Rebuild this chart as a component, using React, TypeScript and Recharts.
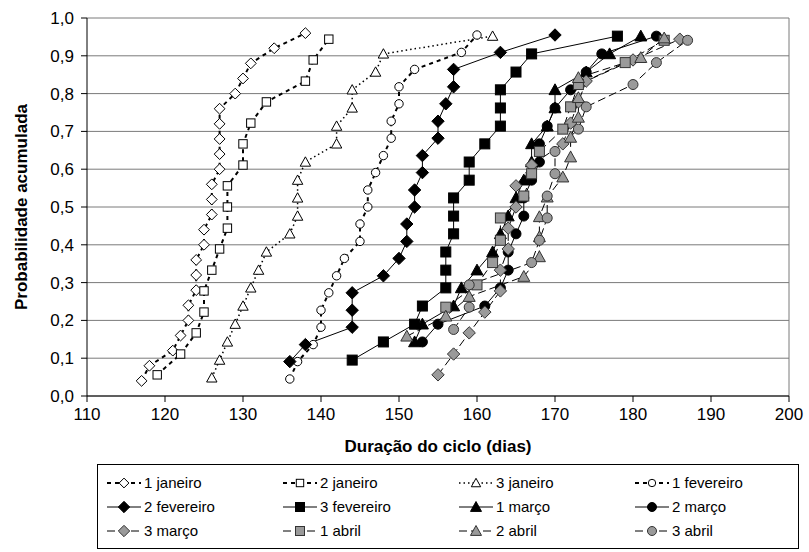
import { LineChart, Line, XAxis, YAxis, CartesianGrid, ReferenceLine } from 'recharts'

// Duração do ciclo (dias) e probabilidade acumulada
const jan1Days = [117, 118, 121, 122, 123, 123, 124, 124, 124, 125, 125, 126, 126, 126, 127, 127, 127, 127, 127, 129, 130, 131, 134, 138]
const jan1Prob = [0.04, 0.08, 0.12, 0.16, 0.2, 0.24, 0.28, 0.32, 0.36, 0.4, 0.44, 0.48, 0.52, 0.56, 0.6, 0.64, 0.68, 0.72, 0.76, 0.8, 0.84, 0.88, 0.92, 0.96]

const jan2Days = [119, 122, 124, 125, 125, 126, 127, 128, 128, 128, 130, 130, 131, 133, 138, 139, 141]
const jan2Prob = [0.056, 0.111, 0.167, 0.222, 0.278, 0.333, 0.389, 0.444, 0.5, 0.556, 0.611, 0.667, 0.722, 0.778, 0.833, 0.889, 0.944]

const jan3Days = [126, 127, 128, 129, 130, 131, 132, 133, 136, 137, 137, 137, 138, 142, 142, 144, 144, 147, 148, 162]
const jan3Prob = [0.048, 0.095, 0.143, 0.19, 0.238, 0.286, 0.333, 0.381, 0.429, 0.476, 0.524, 0.571, 0.619, 0.667, 0.714, 0.762, 0.81, 0.857, 0.905, 0.952]

const fev1Days = [136, 137, 139, 140, 140, 141, 142, 143, 145, 145, 146, 146, 147, 148, 149, 149, 150, 150, 152, 158, 160]
const fev1Prob = [0.045, 0.091, 0.136, 0.182, 0.227, 0.273, 0.318, 0.364, 0.409, 0.455, 0.5, 0.545, 0.591, 0.636, 0.682, 0.727, 0.773, 0.818, 0.864, 0.909, 0.955]

const fev2Days = [136, 138, 144, 144, 144, 148, 150, 151, 151, 152, 152, 153, 153, 155, 155, 156, 157, 157, 163, 170]
const fev2Prob = [0.091, 0.136, 0.182, 0.227, 0.273, 0.318, 0.364, 0.409, 0.455, 0.5, 0.545, 0.591, 0.636, 0.682, 0.727, 0.773, 0.818, 0.864, 0.909, 0.955]

const fev3Days = [144, 148, 152, 153, 156, 156, 156, 157, 157, 157, 159, 159, 161, 163, 163, 163, 165, 167, 178]
const fev3Prob = [0.095, 0.143, 0.19, 0.238, 0.286, 0.333, 0.381, 0.429, 0.476, 0.524, 0.571, 0.619, 0.667, 0.714, 0.762, 0.81, 0.857, 0.905, 0.952]

const mar1Days = [152, 153, 157, 158, 160, 162, 163, 164, 165, 166, 167, 167, 169, 170, 170, 174, 177, 181]
const mar1Prob = [0.143, 0.19, 0.238, 0.286, 0.333, 0.381, 0.429, 0.476, 0.524, 0.571, 0.619, 0.667, 0.714, 0.762, 0.81, 0.857, 0.905, 0.952]

const mar2Days = [153, 155, 161, 163, 164, 164, 165, 166, 166, 167, 168, 168, 169, 170, 172, 174, 176, 183]
const mar2Prob = [0.143, 0.19, 0.238, 0.286, 0.333, 0.381, 0.429, 0.476, 0.524, 0.571, 0.619, 0.667, 0.714, 0.762, 0.81, 0.857, 0.905, 0.952]

const mar3Days = [155, 157, 159, 161, 163, 163, 164, 164, 165, 165, 167, 171, 172, 173, 174, 180, 186]
const mar3Prob = [0.056, 0.111, 0.167, 0.222, 0.278, 0.333, 0.389, 0.444, 0.5, 0.556, 0.611, 0.667, 0.722, 0.778, 0.833, 0.889, 0.944]

const abr1Days = [156, 160, 162, 163, 163, 166, 167, 168, 171, 172, 173, 179, 184]
const abr1Prob = [0.235, 0.294, 0.353, 0.412, 0.471, 0.529, 0.588, 0.647, 0.706, 0.765, 0.824, 0.882, 0.941]

const abr2Days = [151, 156, 159, 166, 168, 168, 168, 169, 171, 172, 172, 173, 173, 173, 181, 184]
const abr2Prob = [0.158, 0.211, 0.263, 0.316, 0.368, 0.421, 0.474, 0.526, 0.579, 0.632, 0.684, 0.737, 0.789, 0.842, 0.895, 0.947]

const abr3Days = [157, 159, 159, 167, 168, 169, 169, 170, 170, 173, 174, 180, 183, 187]
const abr3Prob = [0.176, 0.235, 0.294, 0.353, 0.412, 0.471, 0.529, 0.588, 0.647, 0.706, 0.765, 0.824, 0.882, 0.941]

const xTicks = [110, 120, 130, 140, 150, 160, 170, 180, 190, 200]
const yTicks = [0, 0.1, 0.2, 0.3, 0.4, 0.5, 0.6, 0.7, 0.8, 0.9, 1]

const FONT = '"Liberation Sans", Arial, sans-serif'
const GRAY = '#9a9a9a'

type Shape = 'diamond' | 'square' | 'triangle' | 'circle'

const series = [
  { name: '1 janeiro', days: jan1Days, prob: jan1Prob, shape: 'diamond', fill: '#fff', dash: '4 4', width: 2 },
  { name: '2 janeiro', days: jan2Days, prob: jan2Prob, shape: 'square', fill: '#fff', dash: '4 4', width: 2 },
  { name: '3 janeiro', days: jan3Days, prob: jan3Prob, shape: 'triangle', fill: '#fff', dash: '1.5 3', width: 1.5 },
  { name: '1 fevereiro', days: fev1Days, prob: fev1Prob, shape: 'circle', fill: '#fff', dash: '4 4', width: 2 },
  { name: '2 fevereiro', days: fev2Days, prob: fev2Prob, shape: 'diamond', fill: '#000', dash: undefined, width: 1 },
  { name: '3 fevereiro', days: fev3Days, prob: fev3Prob, shape: 'square', fill: '#000', dash: undefined, width: 1 },
  { name: '1 março', days: mar1Days, prob: mar1Prob, shape: 'triangle', fill: '#000', dash: undefined, width: 1 },
  { name: '2 março', days: mar2Days, prob: mar2Prob, shape: 'circle', fill: '#000', dash: undefined, width: 1 },
  { name: '3 março', days: mar3Days, prob: mar3Prob, shape: 'diamond', fill: GRAY, dash: '8 4', width: 1 },
  { name: '1 abril', days: abr1Days, prob: abr1Prob, shape: 'square', fill: GRAY, dash: '8 4', width: 1 },
  { name: '2 abril', days: abr2Days, prob: abr2Prob, shape: 'triangle', fill: GRAY, dash: '8 4', width: 1 },
  { name: '3 abril', days: abr3Days, prob: abr3Prob, shape: 'circle', fill: GRAY, dash: '8 4', width: 1 },
]

function Marker({ shape, cx, cy, fill, r }: { shape: Shape; cx: number; cy: number; fill: string; r: number }) {
  const stroke = fill === GRAY ? '#333' : '#000'
  if (shape === 'diamond') {
    const d = r + 1.2
    return <polygon points={`${cx},${cy - d} ${cx + d},${cy} ${cx},${cy + d} ${cx - d},${cy}`} fill={fill} stroke={stroke} strokeWidth={1} />
  }
  if (shape === 'square') {
    return <rect x={cx - r} y={cy - r} width={r * 2} height={r * 2} fill={fill} stroke={stroke} strokeWidth={1} />
  }
  if (shape === 'triangle') {
    const h = r + 1
    return <polygon points={`${cx},${cy - h} ${cx + h},${cy + h * 0.8} ${cx - h},${cy + h * 0.8}`} fill={fill} stroke={stroke} strokeWidth={1} />
  }
  return <circle cx={cx} cy={cy} r={r} fill={fill} stroke={stroke} strokeWidth={1} />
}

const markerSize = (fill: string) => (fill === '#fff' ? 4.2 : 5)

export default function App() {
  return (
    <div style={{ position: 'absolute', left: 0, top: 0, width: 809, height: 552, background: '#fff', fontFamily: FONT }}>
      <LineChart width={809} height={426} margin={{ top: 18, right: 20, left: 0, bottom: 0 }}>
        <CartesianGrid horizontal vertical={false} stroke="#7a7a7a" strokeWidth={1} />
        <XAxis
          type="number"
          dataKey="d"
          domain={[110, 200]}
          ticks={xTicks}
          allowDataOverflow
          height={30}
          tickSize={6}
          tickMargin={6}
          stroke="#000"
          tick={{ fill: '#000', fontSize: 17, fontFamily: FONT }}
        />
        <YAxis
          type="number"
          dataKey="p"
          domain={[0, 1]}
          ticks={yTicks}
          width={87}
          tickSize={6}
          tickMargin={7}
          stroke="#000"
          tick={{ fill: '#000', fontSize: 17, fontFamily: FONT }}
          tickFormatter={(v: number) => v.toFixed(1).replace('.', ',')}
        />
        <ReferenceLine x={200} stroke="#7a7a7a" />
        {series.map((s) => (
          <Line
            key={s.name}
            data={s.days.map((d, i) => ({ d, p: s.prob[i] }))}
            dataKey="p"
            type="linear"
            stroke="#000"
            strokeWidth={s.width}
            strokeDasharray={s.dash}
            isAnimationActive={false}
            dot={(props: any) => (
              <Marker key={`${s.name}-${props.index}`} shape={s.shape as Shape} cx={props.cx} cy={props.cy} fill={s.fill} r={markerSize(s.fill)} />
            )}
            activeDot={false}
          />
        ))}
      </LineChart>

      {/* Títulos dos eixos */}
      <div
        style={{
          position: 'absolute',
          left: 22,
          top: 207,
          transform: 'translate(-50%, -50%) rotate(-90deg)',
          fontWeight: 'bold',
          fontSize: 17,
          whiteSpace: 'nowrap',
        }}
      >
        Probabilidade acumulada
      </div>
      <div
        style={{
          position: 'absolute',
          left: 438,
          top: 447,
          transform: 'translate(-50%, -50%)',
          fontWeight: 'bold',
          fontSize: 17,
          whiteSpace: 'nowrap',
        }}
      >
        Duração do ciclo (dias)
      </div>

      {/* Legenda */}
      <div
        style={{
          position: 'absolute',
          left: 97,
          top: 464,
          width: 702,
          height: 85,
          border: '1px solid #000',
          boxSizing: 'border-box',
          display: 'grid',
          gridTemplateColumns: 'repeat(4, 176px)',
          alignContent: 'center',
          rowGap: 4,
          paddingLeft: 8,
        }}
      >
        {series.map((s) => (
          <div key={s.name} style={{ display: 'flex', alignItems: 'center', height: 20, fontSize: 15 }}>
            <svg width={36} height={16} style={{ marginRight: 2 }}>
              <line x1={1} y1={8} x2={35} y2={8} stroke="#000" strokeWidth={s.width} strokeDasharray={s.dash} />
              <Marker shape={s.shape as Shape} cx={18} cy={8} fill={s.fill} r={markerSize(s.fill) - 0.5} />
            </svg>
            <span>{s.name}</span>
          </div>
        ))}
      </div>
    </div>
  )
}
